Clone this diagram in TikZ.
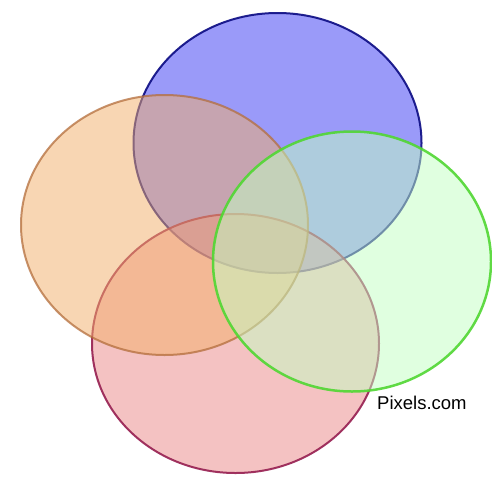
\documentclass[tikz,border=0pt]{standalone}
\usepackage{fontspec}
\setmainfont{Liberation Sans}
\definecolor{bluefill}{RGB}{55,55,245}
\definecolor{blueline}{RGB}{10,10,130}
\definecolor{orangefill}{RGB}{243,175,105}
\definecolor{orangeline}{RGB}{180,110,60}
\definecolor{greenfill}{RGB}{195,255,195}
\definecolor{greenline}{RGB}{80,215,50}
\definecolor{redfill}{RGB}{235,135,135}
\definecolor{redline}{RGB}{150,30,80}
\tikzset{
  setshape/.style={line width=2pt, fill opacity=0.5, draw opacity=0.9}
}
\begin{document}
\begin{tikzpicture}[x=1pt,y=-1pt]
\useasboundingbox (0,0) rectangle (492,477);
\fill[white] (0,0) rectangle (492,477);
\path[setshape, draw=blueline, fill=bluefill] (277.5,143) ellipse [x radius=144, y radius=130];
\path[setshape, draw=redline, fill=redfill] (235.5,343.5) ellipse [x radius=143.5, y radius=129.5];
\path[setshape, draw=orangeline, fill=orangefill, draw opacity=0.75] (164.5,225) ellipse [x radius=143.5, y radius=130];
\path[setshape, draw=greenline, fill=greenfill, line width=2.5pt] (352,261.5) ellipse [x radius=139, y radius=130];
\node[anchor=base west, inner sep=0pt, font=\fontsize{18.5}{20}\selectfont] (label) at (377,409) {Pixels.com};
\end{tikzpicture}
\end{document}
